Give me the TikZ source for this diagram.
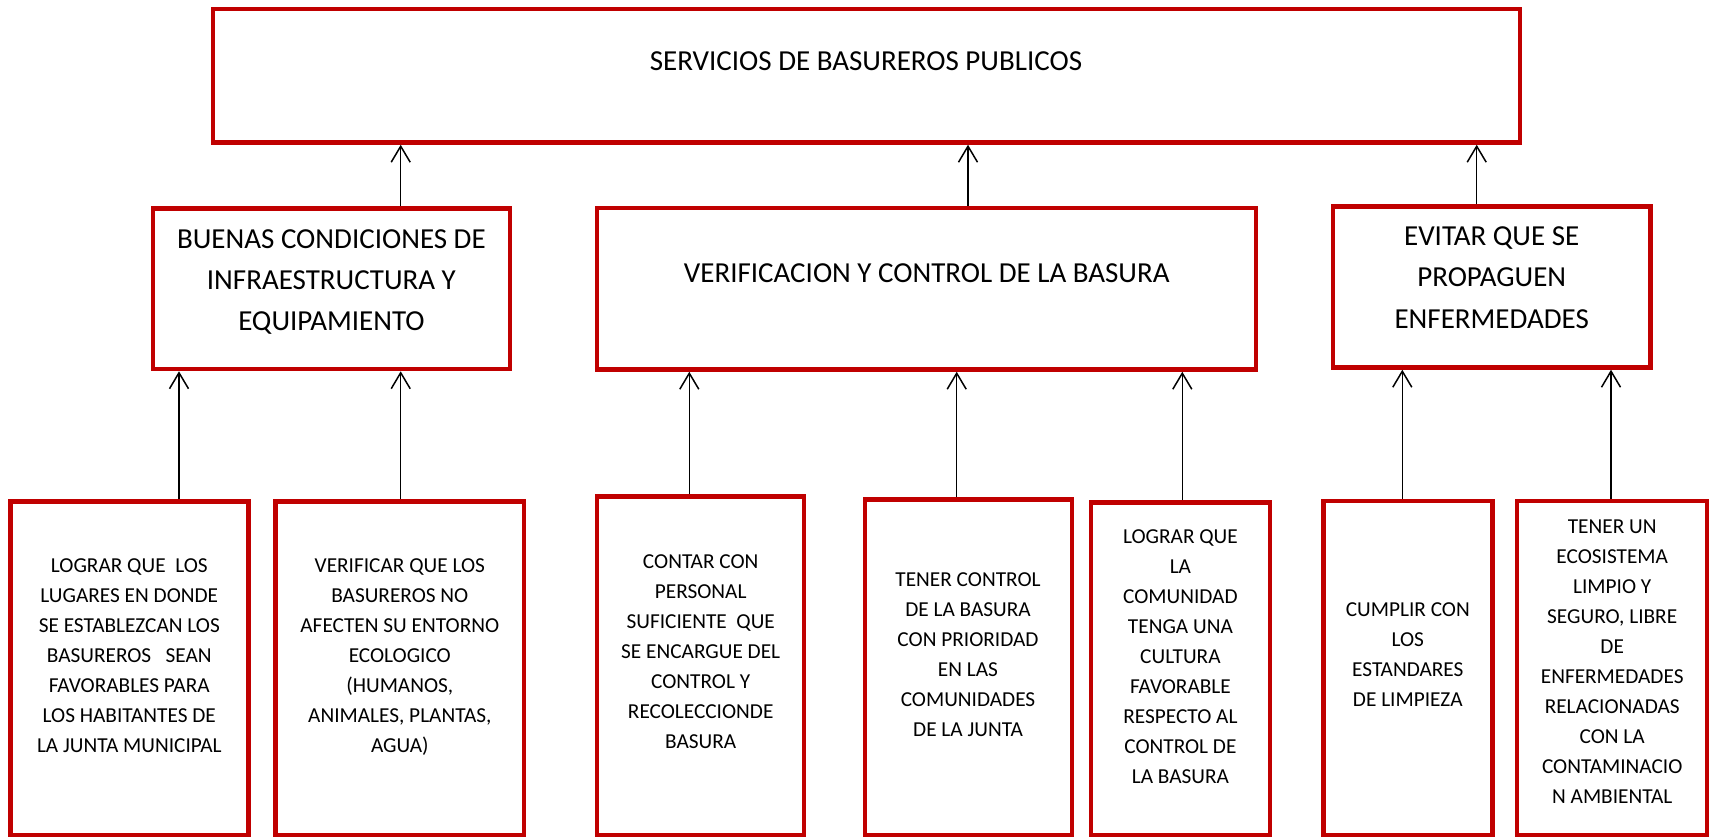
\documentclass[tikz,border=0pt]{standalone}
\usepackage{fontspec}
\setmainfont{Carlito}
\usetikzlibrary{arrows.meta}
\definecolor{boxred}{RGB}{192,0,0}
\begin{document}
\begin{tikzpicture}[x=1pt,y=-1pt,
  rbox/.style={draw=boxred, line width=4.5pt, inner sep=0pt},
  conn/.style={draw=black, line width=1.5pt, -{Straight Barb[length=16pt,width=19pt]}},
  txt/.style={anchor=base, inner sep=0pt, text=black},
  bigtxt/.style={txt, font=\fontsize{29}{41.3}\selectfont},
  smalltxt/.style={txt, font=\fontsize{21.3}{30}\selectfont}]
\useasboundingbox (0,0) rectangle (1709,837);
\fill[white] (0,0) rectangle (1709,837);
% boxes
\node[rbox, minimum width=1307pt, minimum height=133.3pt] (top) at (866.5,75.85) {};
\node[rbox, minimum width=357pt, minimum height=160.7pt] (mA) at (331.5,288.65) {};
\node[rbox, minimum width=659pt, minimum height=161.5pt] (mB) at (926.5,288.75) {};
\node[rbox, minimum width=317.5pt, minimum height=161.2pt] (mC) at (1491.75,286.9) {};
\node[rbox, minimum width=238pt, minimum height=333.8pt] (b1) at (129.3,668.6) {};
\node[rbox, minimum width=248.4pt, minimum height=333.8pt] (b2) at (399.8,668.6) {};
\node[rbox, minimum width=207pt, minimum height=339.2pt] (b3) at (700.7,665.9) {};
\node[rbox, minimum width=207.2pt, minimum height=335.8pt] (b4) at (968.6,667.6) {};
\node[rbox, minimum width=179pt, minimum height=333.2pt] (b5) at (1180.3,668.9) {};
\node[rbox, minimum width=169pt, minimum height=334.7pt] (b6) at (1407.8,668.15) {};
\node[rbox, minimum width=190pt, minimum height=334.5pt] (b7) at (1612.2,668.25) {};
% texts
\node[txt, font=\fontsize{29}{35}\selectfont] (tTop) at (866,70.7) {SERVICIOS DE BASUREROS PUBLICOS};
\node[bigtxt] (tA) at (331.4,248.3) {\begin{tabular}[t]{@{}c@{}}BUENAS CONDICIONES DE\\INFRAESTRUCTURA Y\\EQUIPAMIENTO\end{tabular}};
\node[bigtxt] (tB) at (926.8,283) {VERIFICACION Y CONTROL DE LA BASURA};
\node[bigtxt] (tC) at (1491.7,245.7) {\begin{tabular}[t]{@{}c@{}}EVITAR QUE SE\\PROPAGUEN\\ENFERMEDADES\end{tabular}};
\node[smalltxt] (t1) at (129.3,572.7) {\begin{tabular}[t]{@{}c@{}}LOGRAR QUE\ \ LOS\\LUGARES EN DONDE\\SE ESTABLEZCAN LOS\\BASUREROS\ \ \ SEAN\\FAVORABLES PARA\\LOS HABITANTES DE\\LA JUNTA MUNICIPAL\end{tabular}};
\node[smalltxt] (t2) at (399.8,572.7) {\begin{tabular}[t]{@{}c@{}}VERIFICAR QUE LOS\\BASUREROS NO\\AFECTEN SU ENTORNO\\ECOLOGICO\\(HUMANOS,\\ANIMALES, PLANTAS,\\AGUA)\end{tabular}};
\node[smalltxt] (t3) at (700.7,568.3) {\begin{tabular}[t]{@{}c@{}}CONTAR CON\\PERSONAL\\SUFICIENTE\ \ QUE\\SE ENCARGUE DEL\\CONTROL Y\\RECOLECCIONDE\\BASURA\end{tabular}};
\node[smalltxt] (t4) at (968,586) {\begin{tabular}[t]{@{}c@{}}TENER CONTROL\\DE LA BASURA\\CON PRIORIDAD\\EN LAS\\COMUNIDADES\\DE LA JUNTA\end{tabular}};
\node[smalltxt] (t5) at (1180.4,543.3) {\begin{tabular}[t]{@{}c@{}}LOGRAR QUE\\LA\\COMUNIDAD\\TENGA UNA\\CULTURA\\FAVORABLE\\RESPECTO AL\\CONTROL DE\\LA BASURA\end{tabular}};
\node[smalltxt] (t6) at (1407.8,616.7) {\begin{tabular}[t]{@{}c@{}}CUMPLIR CON\\LOS\\ESTANDARES\\DE LIMPIEZA\end{tabular}};
\node[smalltxt] (t7) at (1612.2,533.3) {\begin{tabular}[t]{@{}c@{}}TENER UN\\ECOSISTEMA\\LIMPIO Y\\SEGURO, LIBRE\\DE\\ENFERMEDADES\\RELACIONADAS\\CON LA\\CONTAMINACIO\\N AMBIENTAL\end{tabular}};
% connector x positions
\coordinate (xA) at (400.7,0);
\coordinate (xB) at (968,0);
\coordinate (xC) at (1476.7,0);
\coordinate (x1) at (179,0);
\coordinate (x2) at (400.7,0);
\coordinate (x3) at (689.3,0);
\coordinate (x4) at (956.7,0);
\coordinate (x5) at (1182.3,0);
\coordinate (x6) at (1402.3,0);
\coordinate (x7) at (1611,0);
% connectors
\draw[conn] (mA.north -| xA) -- (top.south -| xA);
\draw[conn] (mB.north -| xB) -- (top.south -| xB);
\draw[conn] (mC.north -| xC) -- (top.south -| xC);
\draw[conn] (b1.north -| x1) -- (mA.south -| x1);
\draw[conn] (b2.north -| x2) -- (mA.south -| x2);
\draw[conn] (b3.north -| x3) -- (mB.south -| x3);
\draw[conn] (b4.north -| x4) -- (mB.south -| x4);
\draw[conn] (b5.north -| x5) -- (mB.south -| x5);
\draw[conn] (b6.north -| x6) -- (mC.south -| x6);
\draw[conn] (b7.north -| x7) -- (mC.south -| x7);
\end{tikzpicture}
\end{document}
